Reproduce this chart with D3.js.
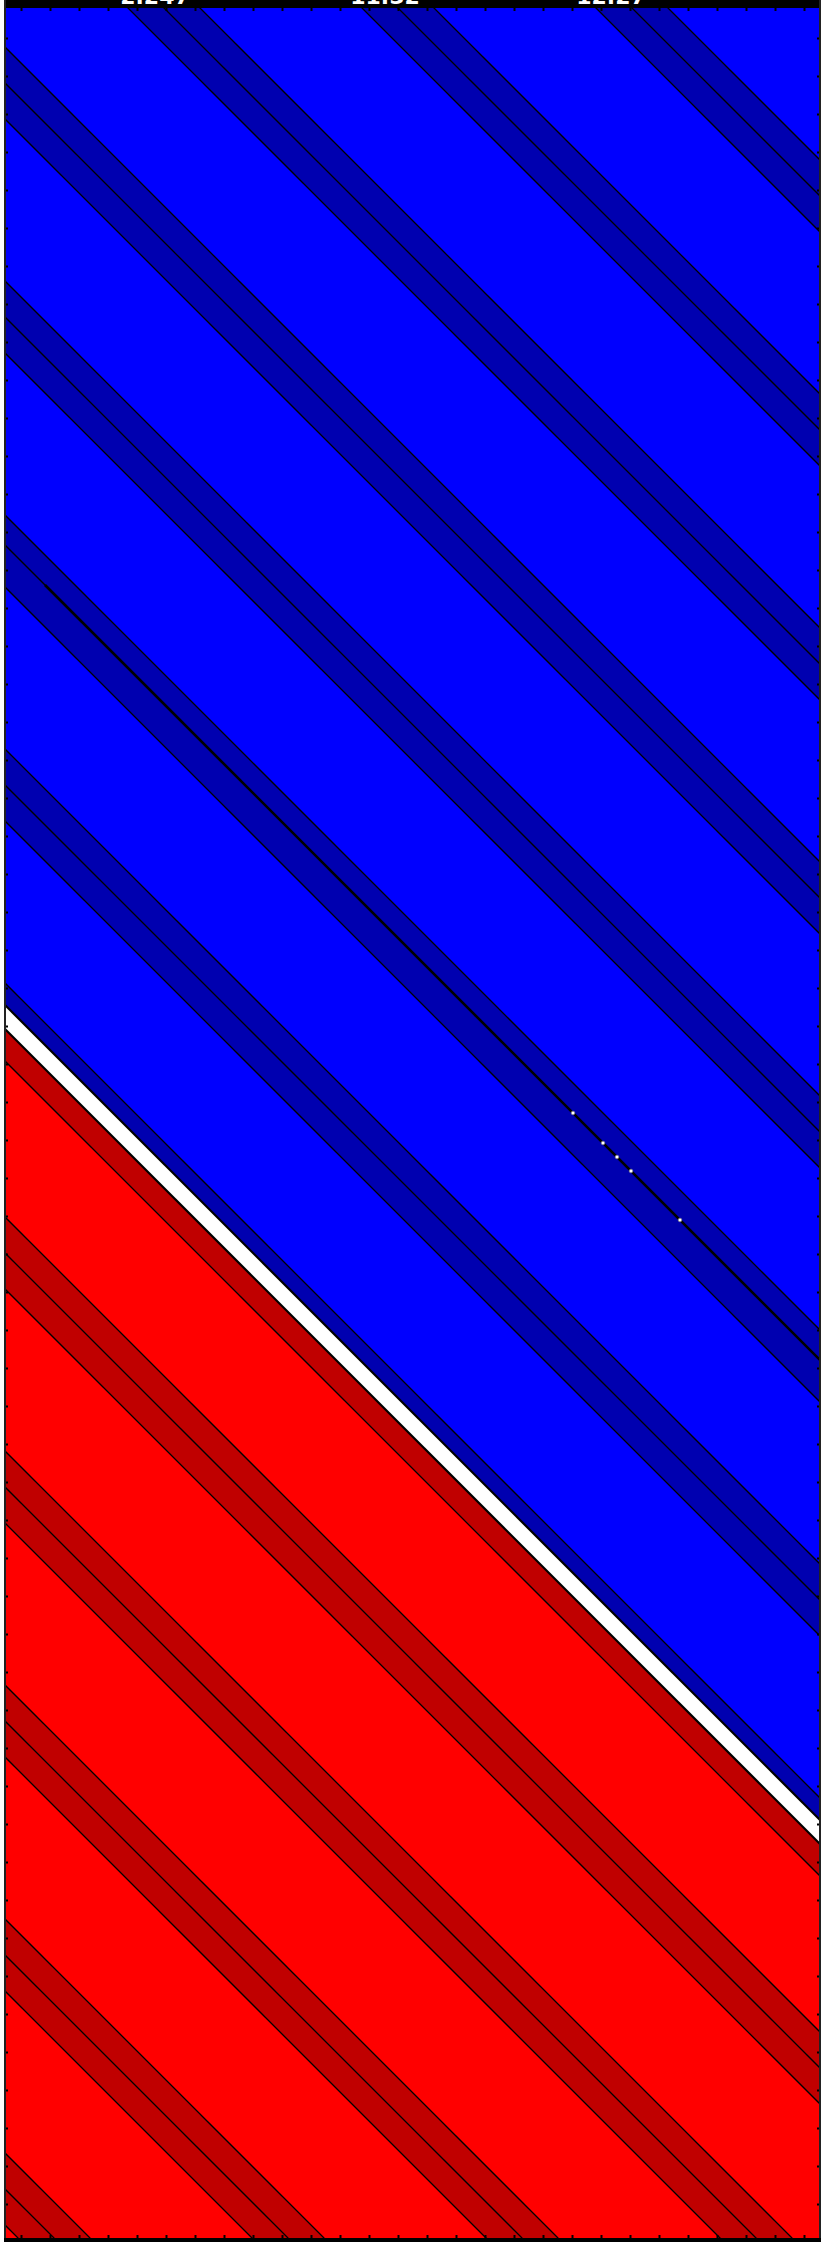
<!DOCTYPE html>
<html>
<head>
<meta charset="utf-8">
<script src="https://cdn.jsdelivr.net/npm/d3@7"></script>
<style>
  body { margin: 0; background: #fff; }
  svg { display: block; }
</style>
</head>
<body>
<svg width="830" height="2252"></svg>
<script>
// contour level positions, in plot units of u = y - x
var bandLo  = [-663, -429, -195, 39, 273, 507, 741, 975, 1209, 1443, 1677, 1911, 2145];
var bandMid = [-627, -393, -159, 75, 309, 537, 777, 1011, 1245, 1479, 1713, 1947, 2181];
var bandHi  = [-591, -357, -123, 111, 345, 579, 813, 1053, 1281, 1515, 1749, 1983, 2217];
var gapEdges = [997, 1021];          // undefined (white) strip between the two halves
var ridgeLevel = 537, ridgeStart = 40; // the heavy level line in the blue half
var ridgeDotsX = [568, 598, 612, 626, 675];
var topLabels = ["2.247", "11.52", "12.27"];
var topLabelX = [155, 385, 611];

var svg = d3.select("svg"),
    margin = {top: 8, right: 10, bottom: 14, left: 5},
    width = +svg.attr("width") - margin.left - margin.right,
    height = +svg.attr("height") - margin.top - margin.bottom;

var x = d3.scaleLinear().domain([0, width]).range([margin.left, margin.left + width]),
    y = d3.scaleLinear().domain([0, height]).range([margin.top, margin.top + height]);

var xlo = -height - 50, xhi = width + height + 50;

// polygon of the strip u0 <= y - x <= u1
function strip(u0, u1) {
    return [[xlo, xlo + u0], [xhi, xhi + u0], [xhi, xhi + u1], [xlo, xlo + u1]]
        .map(function (p) { return [x(p[0]), y(p[1])]; });
}
var poly = function (pts) { return "M" + pts.join("L") + "Z"; };
var line = d3.line()
    .x(function (d) { return x(d); })
    .y(function (d) { return y(d + this_u); });
var this_u = 0;
function level(u) {
    this_u = u;
    return line([xlo, xhi]);
}

var defs = svg.append("defs");
defs.append("clipPath").attr("id", "clip-blue")
    .append("path").attr("d", poly(strip(-5000, gapEdges[0])));
defs.append("clipPath").attr("id", "clip-red")
    .append("path").attr("d", poly(strip(gapEdges[1], 5000)));
defs.append("clipPath").attr("id", "clip-plot")
    .append("rect")
    .attr("x", margin.left).attr("y", margin.top)
    .attr("width", width).attr("height", height);

var plot = svg.append("g").attr("clip-path", "url(#clip-plot)");

function half(id, light, dark) {
    var g = plot.append("g").attr("clip-path", "url(#" + id + ")");
    g.append("rect")
        .attr("x", margin.left).attr("y", margin.top)
        .attr("width", width).attr("height", height)
        .attr("fill", light);
    g.selectAll(".band").data(bandLo).enter().append("path")
        .attr("class", "band")
        .attr("d", function (d, i) { return poly(strip(d, bandHi[i])); })
        .attr("fill", dark);
    g.selectAll(".lvl").data(bandLo.concat(bandMid, bandHi)).enter().append("path")
        .attr("class", "lvl")
        .attr("d", function (d) { return level(d); })
        .attr("fill", "none")
        .attr("stroke", "#000")
        .attr("stroke-width", 1.3);
    return g;
}

var blue = half("clip-blue", "#0000ff", "#0000b0");
half("clip-red", "#ff0000", "#c00000");

// heavy ridge line with a few open points
this_u = ridgeLevel;
blue.append("path")
    .attr("d", line([ridgeStart, xhi]))
    .attr("fill", "none")
    .attr("stroke", "#000")
    .attr("stroke-width", 2.6);
blue.selectAll(".dot").data(ridgeDotsX).enter().append("circle")
    .attr("cx", function (d) { return x(d); })
    .attr("cy", function (d) { return y(d + ridgeLevel); })
    .attr("r", 1.8)
    .attr("fill", "#fff")
    .attr("stroke", "#888")
    .attr("stroke-width", 0.6);

// white gap with its black borders
plot.append("path")
    .attr("d", poly(strip(gapEdges[0], gapEdges[1])))
    .attr("fill", "#fff");
plot.selectAll(".gap").data(gapEdges).enter().append("path")
    .attr("class", "gap")
    .attr("d", function (d) { return level(d); })
    .attr("fill", "none")
    .attr("stroke", "#000")
    .attr("stroke-width", 2.2);

// frame and small ticks
var xAxisTop = d3.axisBottom(x).tickValues(d3.range(16, width, 29)).tickSize(3).tickFormat("");
var xAxisBot = d3.axisTop(x).tickValues(d3.range(16, width, 29)).tickSize(3).tickFormat("");
var yAxisL = d3.axisRight(y).tickValues(d3.range(30, height, 38)).tickSize(3).tickFormat("");
var yAxisR = d3.axisLeft(y).tickValues(d3.range(30, height, 38)).tickSize(3).tickFormat("");

svg.append("g").attr("transform", "translate(0," + margin.top + ")").call(xAxisTop);
svg.append("g").attr("transform", "translate(0," + (margin.top + height) + ")").call(xAxisBot);
svg.append("g").attr("transform", "translate(" + margin.left + ",0)").call(yAxisL);
svg.append("g").attr("transform", "translate(" + (margin.left + width) + ",0)").call(yAxisR);
svg.selectAll(".domain").remove();
svg.selectAll(".tick line").attr("stroke", "#000").attr("stroke-width", 2);

svg.append("rect")
    .attr("x", margin.left - 1).attr("y", 0)
    .attr("width", width + 2).attr("height", margin.top)
    .attr("fill", "#000");
svg.append("rect")
    .attr("x", margin.left - 1).attr("y", margin.top + height)
    .attr("width", width + 2).attr("height", 4)
    .attr("fill", "#000");
svg.append("line")
    .attr("x1", margin.left).attr("x2", margin.left)
    .attr("y1", 0).attr("y2", margin.top + height)
    .attr("stroke", "#222").attr("stroke-width", 2);
svg.append("line")
    .attr("x1", margin.left + width).attr("x2", margin.left + width)
    .attr("y1", 0).attr("y2", margin.top + height)
    .attr("stroke", "#222").attr("stroke-width", 2);

// title labels, mostly cut by the top of the page
svg.selectAll(".toplab").data(topLabels).enter().append("text")
    .attr("class", "toplab")
    .attr("x", function (d, i) { return topLabelX[i]; })
    .attr("y", 4)
    .attr("text-anchor", "middle")
    .attr("font-family", "DejaVu Sans, sans-serif")
    .attr("font-weight", "bold")
    .attr("font-size", 22)
    .attr("fill", "#fff")
    .text(function (d) { return d; });
</script>
</body>
</html>
